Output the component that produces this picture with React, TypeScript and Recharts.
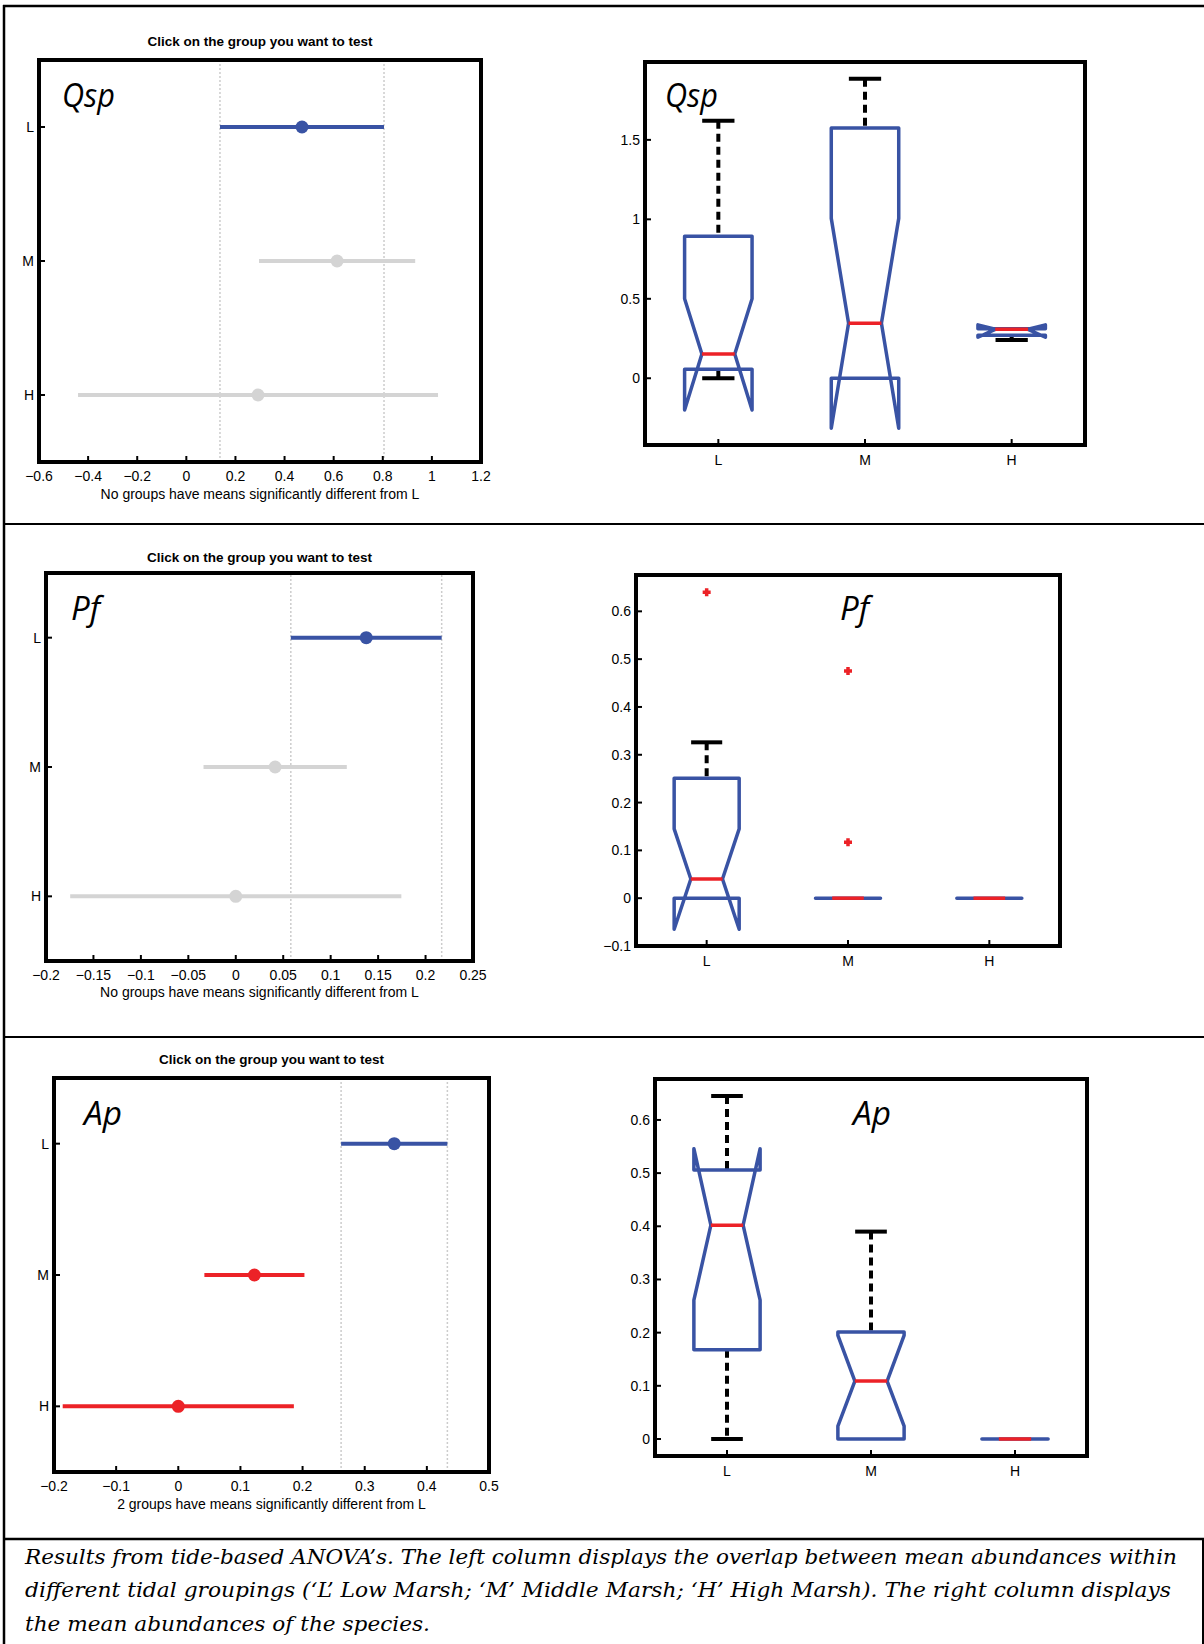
import React from 'react';
import { ScatterChart, Scatter, XAxis, YAxis, ReferenceLine } from 'recharts';

const groups = ['L', 'M', 'H'];

// left column: comparison intervals (mean +/- half width)
const qspMeans = [0.471, 0.614, 0.292];
const qspHalf = [0.334, 0.318, 0.733];
const pfMeans = [0.1375, 0.0415, 0];
const pfHalf = [0.0795, 0.0755, 0.1745];
const apMeans = [0.3475, 0.1225, 0];
const apHalf = [0.0855, 0.0805, 0.186];

const qspCiTicks = [-0.6, -0.4, -0.2, 0, 0.2, 0.4, 0.6, 0.8, 1, 1.2];
const pfCiTicks = [-0.2, -0.15, -0.1, -0.05, 0, 0.05, 0.1, 0.15, 0.2, 0.25];
const apCiTicks = [-0.2, -0.1, 0, 0.1, 0.2, 0.3, 0.4, 0.5];

// right column: notched box plots
const qspQ1 = [0.057, 0, 0.27];
const qspMed = [0.152, 0.346, 0.308];
const qspQ3 = [0.893, 1.575, 0.312];
const qspNotchLo = [-0.2, -0.315, 0.258];
const qspNotchHi = [0.5, 1.006, 0.336];
const qspWhiskLo = [0, 0, 0.24];
const qspWhiskHi = [1.62, 1.885, 0.312];

const pfQ1 = [0, 0, 0];
const pfMed = [0.04, 0, 0];
const pfQ3 = [0.251, 0, 0];
const pfNotchLo = [-0.065, 0, 0];
const pfNotchHi = [0.145, 0, 0];
const pfWhiskLo = [0, 0, 0];
const pfWhiskHi = [0.326, 0, 0];
const pfOutGroup = [1, 2, 2];
const pfOutValue = [0.64, 0.475, 0.117];

const apQ1 = [0.168, 0, 0];
const apMed = [0.402, 0.109, 0];
const apQ3 = [0.506, 0.201, 0];
const apNotchLo = [0.261, 0.024, 0];
const apNotchHi = [0.546, 0.195, 0];
const apWhiskLo = [0, 0, 0];
const apWhiskHi = [0.645, 0.39, 0];

const qspBoxTicks = [0, 0.5, 1, 1.5];
const pfBoxTicks = [-0.1, 0, 0.1, 0.2, 0.3, 0.4, 0.5, 0.6];
const apBoxTicks = [0, 0.1, 0.2, 0.3, 0.4, 0.5, 0.6];

const BLUE = '#3953a4';
const GRAY = '#d4d4d4';
const RED = '#ec2227';

const PAD = 6;
const PADR = 26;
const YW = 40;
const XH = 30;
const BW = 0.23; // box half width
const NW = 0.112; // notch half width
const CW = 0.11; // whisker cap half width

const AX = { stroke: '#000', strokeWidth: 4, strokeLinecap: 'square' as const };
const TL = { stroke: '#000', strokeWidth: 2 };
const TICK = { fill: '#000', fontSize: 14, fontFamily: 'Liberation Sans, Arial, sans-serif' };
const SANS = 'Liberation Sans, Arial, sans-serif';

const fmt = (v: number) => (v < 0 ? '\u2212' + String(-v) : String(v));
const grp = (v: number) => groups[v - 1] ?? '';
const hidden = () => <g />;

function frameAxes(xDomain: number[], xTicks: number[], yDomain: number[], yTicks: number[], reversed: boolean, xFmt: any, yFmt: any, xMargin: number) {
  return [
    <XAxis key="xb" dataKey="x" type="number" domain={xDomain} ticks={xTicks} allowDataOverflow height={XH}
      axisLine={AX} tickLine={TL} tickSize={-6} tickMargin={xMargin} tick={TICK} tickFormatter={xFmt} interval={0} />,
    <XAxis key="xt" xAxisId="top" orientation="top" dataKey="x" type="number" domain={xDomain} ticks={xTicks}
      allowDataOverflow height={1} axisLine={AX} tickLine={TL} tickSize={-6} tick={false} interval={0} />,
    <YAxis key="yl" dataKey="y" type="number" domain={yDomain} ticks={yTicks} reversed={reversed} allowDataOverflow width={YW}
      axisLine={AX} tickLine={TL} tickSize={-6} tickMargin={11} tick={TICK} tickFormatter={yFmt} interval={0} />,
    <YAxis key="yr" yAxisId="right" orientation="right" dataKey="y" type="number" domain={yDomain} ticks={yTicks}
      reversed={reversed} allowDataOverflow width={1} axisLine={AX} tickLine={TL} tickSize={-6} tick={false} interval={0} />,
  ];
}

function chartFrame(box: number[]) {
  const [x0, y0, x1, y1] = box;
  return {
    left: x0 - PAD - YW,
    top: y0 - PAD - 1,
    width: PAD + YW + (x1 - x0) + 1 + PADR,
    height: PAD + 1 + (y1 - y0) + XH + PAD,
  };
}

function CiChart({ box, domain, ticks, means, half, colors }: any) {
  const f = chartFrame(box);
  const lo = means[0] - half[0];
  const hi = means[0] + half[0];
  return (
    <div style={{ position: 'absolute', left: f.left, top: f.top }}>
      <ScatterChart width={f.width} height={f.height} margin={{ top: PAD, right: PADR, bottom: PAD, left: PAD }}>
        <ReferenceLine x={lo} stroke="#cccccc" strokeWidth={1.5} strokeDasharray="2 2" />
        <ReferenceLine x={hi} stroke="#cccccc" strokeWidth={1.5} strokeDasharray="2 2" />
        {means.map((m: number, i: number) => (
          <Scatter key={'ci' + i} data={[{ x: m - half[i], y: i + 1 }, { x: m + half[i], y: i + 1 }]}
            fill={colors[i]} line={{ stroke: colors[i], strokeWidth: 4 }} shape={hidden} isAnimationActive={false} />
        ))}
        {means.map((m: number, i: number) => (
          <Scatter key={'mean' + i} data={[{ x: m, y: i + 1 }]} fill={colors[i]} isAnimationActive={false}
            shape={(p: any) => <circle cx={p.cx} cy={p.cy} r={6.5} fill={colors[i]} />} />
        ))}
        {frameAxes(domain, ticks, [0.5, 3.5], [1, 2, 3], true, fmt, grp, 15)}
      </ScatterChart>
    </div>
  );
}

function BoxChart({ box, domain, ticks, q1, med, q3, nlo, nhi, wlo, whi, outG = [], outV = [] }: any) {
  const f = chartFrame(box);
  const whiskers: any[] = [];
  const boxes: any[] = [];
  groups.forEach((g, i) => {
    const x = i + 1;
    if (whi[i] > q3[i]) {
      whiskers.push(
        <Scatter key={'wu' + i} data={[{ x, y: whi[i] }, { x, y: q3[i] }]} fill="#000" shape={hidden} isAnimationActive={false}
          line={{ stroke: '#000', strokeWidth: 4, strokeDasharray: '8 5' }} />,
        <Scatter key={'cu' + i} data={[{ x: x - CW, y: whi[i] }, { x: x + CW, y: whi[i] }]} fill="#000" shape={hidden}
          isAnimationActive={false} line={{ stroke: '#000', strokeWidth: 4 }} />,
      );
    }
    if (wlo[i] < q1[i]) {
      whiskers.push(
        <Scatter key={'wl' + i} data={[{ x, y: q1[i] }, { x, y: wlo[i] }]} fill="#000" shape={hidden} isAnimationActive={false}
          line={{ stroke: '#000', strokeWidth: 4, strokeDasharray: '8 5' }} />,
        <Scatter key={'cl' + i} data={[{ x: x - CW, y: wlo[i] }, { x: x + CW, y: wlo[i] }]} fill="#000" shape={hidden}
          isAnimationActive={false} line={{ stroke: '#000', strokeWidth: 4 }} />,
      );
    }
    const outline = [
      { x: x - BW, y: q1[i] }, { x: x - BW, y: nlo[i] }, { x: x - NW, y: med[i] }, { x: x - BW, y: nhi[i] },
      { x: x - BW, y: q3[i] }, { x: x + BW, y: q3[i] }, { x: x + BW, y: nhi[i] }, { x: x + NW, y: med[i] },
      { x: x + BW, y: nlo[i] }, { x: x + BW, y: q1[i] }, { x: x - BW, y: q1[i] },
    ];
    boxes.push(
      <Scatter key={'box' + i} data={outline} fill={BLUE} shape={hidden} isAnimationActive={false}
        line={{ stroke: BLUE, strokeWidth: 3.5, strokeLinejoin: 'round', strokeLinecap: 'round' }} />,
      <Scatter key={'med' + i} data={[{ x: x - NW, y: med[i] }, { x: x + NW, y: med[i] }]} fill={RED} shape={hidden}
        isAnimationActive={false} line={{ stroke: RED, strokeWidth: 3.5 }} />,
    );
  });
  const outliers = outG.map((g: number, i: number) => ({ x: g, y: outV[i] }));
  return (
    <div style={{ position: 'absolute', left: f.left, top: f.top }}>
      <ScatterChart width={f.width} height={f.height} margin={{ top: PAD, right: PADR, bottom: PAD, left: PAD }}>
        {whiskers}
        {boxes}
        {outliers.length > 0 && (
          <Scatter data={outliers} fill={RED} isAnimationActive={false}
            shape={(p: any) => (
              <path d={`M${p.cx - 4},${p.cy}H${p.cx + 4}M${p.cx},${p.cy - 4}V${p.cy + 4}`} stroke={RED} strokeWidth={3.5} />
            )} />
        )}
        {frameAxes([0.5, 3.5], [1, 2, 3], domain, ticks, false, grp, fmt, 16)}
      </ScatterChart>
    </div>
  );
}

const P1 = [39, 60, 481, 462];
const P2 = [645, 62, 1085, 445];
const P3 = [46, 573, 473, 961];
const P4 = [636, 575, 1060, 946];
const P5 = [54, 1078, 489, 1472];
const P6 = [655, 1079, 1087, 1456];

function ciTexts(box: number[], titleY: number, labelY: number, label: string) {
  const cx = (box[0] + box[2]) / 2;
  return (
    <g fontFamily={SANS} fontSize={13.5} textAnchor="middle" fill="#000">
      <text x={cx} y={titleY} fontWeight="bold">Click on the group you want to test</text>
      <text x={cx} y={labelY} fontSize={14}>{label}</text>
    </g>
  );
}

function species(x: number, y: number, name: string, len: number) {
  return (
    <text x={x} y={y} fontFamily="Open Sans, Lato, sans-serif" fontStyle="italic" fontSize={33}
      textLength={len} lengthAdjust="spacingAndGlyphs" fill="#000">{name}</text>
  );
}

export default function App() {
  return (
    <div style={{ position: 'absolute', left: 0, top: 0, width: 1204, height: 1644, background: '#fff', overflow: 'hidden' }}>
      <CiChart box={P1} domain={[-0.6, 1.2]} ticks={qspCiTicks} means={qspMeans} half={qspHalf} colors={[BLUE, GRAY, GRAY]} />
      <BoxChart box={P2} domain={[-0.42, 1.99]} ticks={qspBoxTicks} q1={qspQ1} med={qspMed} q3={qspQ3}
        nlo={qspNotchLo} nhi={qspNotchHi} wlo={qspWhiskLo} whi={qspWhiskHi} />
      <CiChart box={P3} domain={[-0.2, 0.25]} ticks={pfCiTicks} means={pfMeans} half={pfHalf} colors={[BLUE, GRAY, GRAY]} />
      <BoxChart box={P4} domain={[-0.1, 0.676]} ticks={pfBoxTicks} q1={pfQ1} med={pfMed} q3={pfQ3}
        nlo={pfNotchLo} nhi={pfNotchHi} wlo={pfWhiskLo} whi={pfWhiskHi} outG={pfOutGroup} outV={pfOutValue} />
      <CiChart box={P5} domain={[-0.2, 0.5]} ticks={apCiTicks} means={apMeans} half={apHalf} colors={[BLUE, RED, RED]} />
      <BoxChart box={P6} domain={[-0.032, 0.677]} ticks={apBoxTicks} q1={apQ1} med={apMed} q3={apQ3}
        nlo={apNotchLo} nhi={apNotchHi} wlo={apWhiskLo} whi={apWhiskHi} />
      <svg width={1204} height={1644} style={{ position: 'absolute', left: 0, top: 0, pointerEvents: 'none' }}>
        <g stroke="#000" strokeWidth={2.5}>
          <line x1={4} y1={5} x2={4} y2={1644} />
          <line x1={3} y1={6} x2={1204} y2={6} />
          <line x1={3} y1={524} x2={1204} y2={524} strokeWidth={2} />
          <line x1={3} y1={1037} x2={1204} y2={1037} strokeWidth={2} />
          <line x1={3} y1={1539} x2={1204} y2={1539} />
          <line x1={1203} y1={1539} x2={1203} y2={1644} strokeWidth={2} />
        </g>
        {ciTexts(P1, 46, 499, 'No groups have means significantly different from L')}
        {ciTexts(P3, 562, 997, 'No groups have means significantly different from L')}
        {ciTexts(P5, 1064, 1509, '2 groups have means significantly different from L')}
        {species(62, 107, 'Qsp', 53)}
        {species(665, 107, 'Qsp', 53)}
        {species(71, 620, 'Pf', 29)}
        {species(840, 620, 'Pf', 29)}
        {species(84, 1125, 'Ap', 38)}
        {species(853, 1125, 'Ap', 38)}
        <g fontFamily="DejaVu Serif, serif" fontStyle="italic" fontSize={21} fill="#000">
          <text x={25} y={1564} textLength={1152} lengthAdjust="spacingAndGlyphs">
            Results from tide-based ANOVA’s. The left column displays the overlap between mean abundances within
          </text>
          <text x={25} y={1597} textLength={1146} lengthAdjust="spacingAndGlyphs">
            different tidal groupings (‘L’ Low Marsh; ‘M’ Middle Marsh; ‘H’ High Marsh). The right column displays
          </text>
          <text x={25} y={1631} textLength={405} lengthAdjust="spacingAndGlyphs">
            the mean abundances of the species.
          </text>
        </g>
      </svg>
    </div>
  );
}
